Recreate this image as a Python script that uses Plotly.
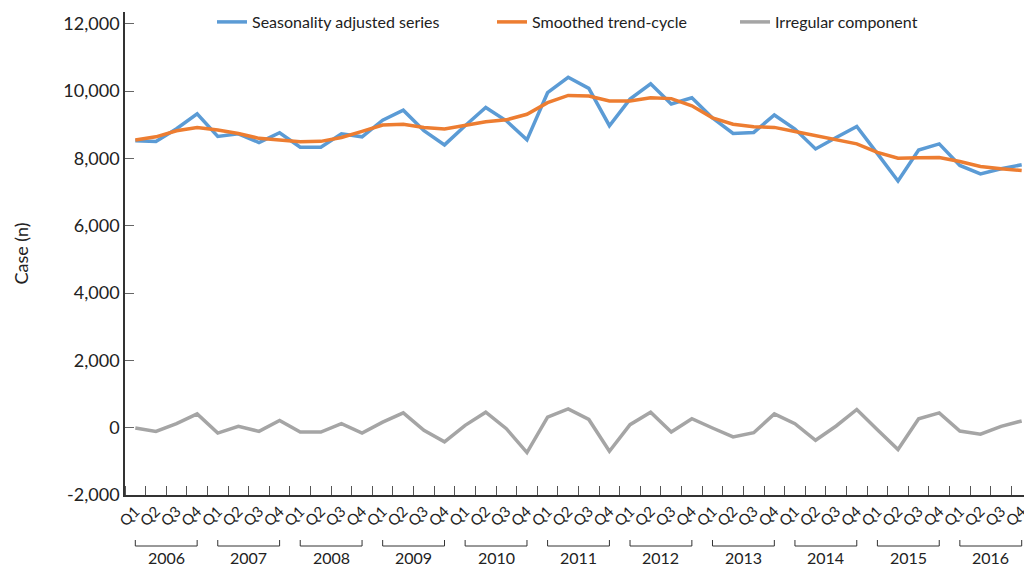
import plotly.graph_objects as go

years = ["2006", "2007", "2008", "2009", "2010", "2011", "2012", "2013", "2014", "2015", "2016"]
quarters = ["Q1", "Q2", "Q3", "Q4"]
quarter_labels = [q for y in years for q in quarters]

seasonally_adjusted = [8525, 8500, 8880, 9320, 8650, 8730, 8470, 8760, 8330, 8330, 8730, 8640,
                       9135, 9430, 8820, 8400, 8970, 9510, 9115, 8550, 9950, 10410, 10080, 8970,
                       9760, 10215, 9615, 9800, 9200, 8740, 8770, 9290, 8870, 8280, 8620, 8950,
                       8140, 7325, 8250, 8430, 7790, 7540, 7690, 7810]
trend_cycle = [8545, 8640, 8820, 8920, 8840, 8740, 8595, 8555, 8495, 8505, 8620, 8800,
               8990, 9015, 8920, 8870, 8970, 9085, 9145, 9310, 9655, 9870, 9850, 9705,
               9705, 9800, 9775, 9560, 9205, 9015, 8940, 8920, 8800, 8675, 8575, 8430,
               8180, 8005, 8015, 8025, 7905, 7760, 7690, 7640]
irregular = [-10, -110, 120, 410, -160, 40, -110, 215, -130, -130, 120, -160,
             165, 440, -80, -420, 70, 460, -30, -740, 315, 560, 245, -700,
             90, 460, -130, 265, -10, -275, -150, 410, 120, -375, 50, 540,
             -60, -650, 265, 440, -100, -195, 40, 200]

y_ticks = [-2000, 0, 2000, 4000, 6000, 8000, 10000, 12000]

FONT = "Lato"
TXT = "#222222"
x = list(range(len(quarter_labels)))

# page has an 8px body margin; compensate so plot lands where the reference has it
OFF = 8
W, H = 1032 - OFF, 568 - OFF
L_SCR, R_SCR = 125, 1032          # plot area left/right on screen
T_SCR, B_SCR = 12, 495            # plot area top/bottom on screen
plot_w = R_SCR - L_SCR
plot_h = B_SCR - T_SCR

def py(pix):
    return (B_SCR - pix) / plot_h

def px(pix):
    return (pix - L_SCR) / plot_w

fig = go.Figure()
fig.add_trace(go.Scatter(x=x, y=seasonally_adjusted, mode="lines", name="Seasonality adjusted series",
                         line=dict(color="#5B9BD5", width=3.5), legend="legend"))
fig.add_trace(go.Scatter(x=x, y=trend_cycle, mode="lines", name="Smoothed trend-cycle",
                         line=dict(color="#ED7D31", width=3.5), legend="legend2"))
fig.add_trace(go.Scatter(x=x, y=irregular, mode="lines", name="Irregular component",
                         line=dict(color="#A5A5A5", width=3.5), legend="legend3"))

shapes = []
annotations = []
for k, yr in enumerate(years):
    x0, x1 = 4 * k, 4 * k + 3
    shapes.append(dict(type="line", xref="x", yref="paper", x0=x0, x1=x1, y0=py(546), y1=py(546),
                       line=dict(color="#333333", width=1)))
    for xe in (x0, x1):
        shapes.append(dict(type="line", xref="x", yref="paper", x0=xe, x1=xe, y0=py(546), y1=py(540),
                           line=dict(color="#333333", width=1)))
    annotations.append(dict(text=yr, xref="x", yref="paper", x=(x0 + x1) / 2, y=py(557),
                            xanchor="center", yanchor="middle", showarrow=False,
                            font=dict(family=FONT, size=16, color=TXT)))

def leg(xpix):
    return dict(orientation="h", x=px(xpix), xanchor="left", y=py(22), yanchor="middle",
                font=dict(family=FONT, size=16, color=TXT), bgcolor="rgba(0,0,0,0)", itemwidth=30)

fig.update_layout(
    width=W, height=H,
    margin=dict(l=L_SCR - OFF, r=0, t=T_SCR - OFF, b=568 - B_SCR, autoexpand=False),
    paper_bgcolor="white", plot_bgcolor="white",
    font=dict(family=FONT, size=15, color=TXT),
    showlegend=True,
    legend=leg(212), legend2=leg(492), legend3=leg(735),
    shapes=shapes, annotations=annotations,
    xaxis=dict(range=[-0.5, len(x) - 0.5], tickmode="array", tickvals=x, ticktext=quarter_labels,
               tickangle=-45, ticks="", showgrid=False, zeroline=False, automargin=False,
               showline=True, linecolor="#333333", linewidth=1.5,
               tickfont=dict(family=FONT, size=15, color=TXT),
               minor=dict(tick0=-0.5, dtick=1, ticks="inside", ticklen=9, tickcolor="#555555",
                          tickwidth=1, showgrid=False)),
    yaxis=dict(range=[-2000, 12348], tickmode="array", tickvals=y_ticks,
               ticktext=[f"{v:,}" for v in y_ticks], ticks="inside", ticklen=9,
               tickcolor="#666666", showgrid=False, zeroline=False, automargin=False,
               showline=True, linecolor="#333333", linewidth=1.5,
               tickfont=dict(family=FONT, size=18, color=TXT),
               title=dict(text="Case (n)", font=dict(family=FONT, size=18, color=TXT), standoff=30)),
)

fig.write_html("out.html")
